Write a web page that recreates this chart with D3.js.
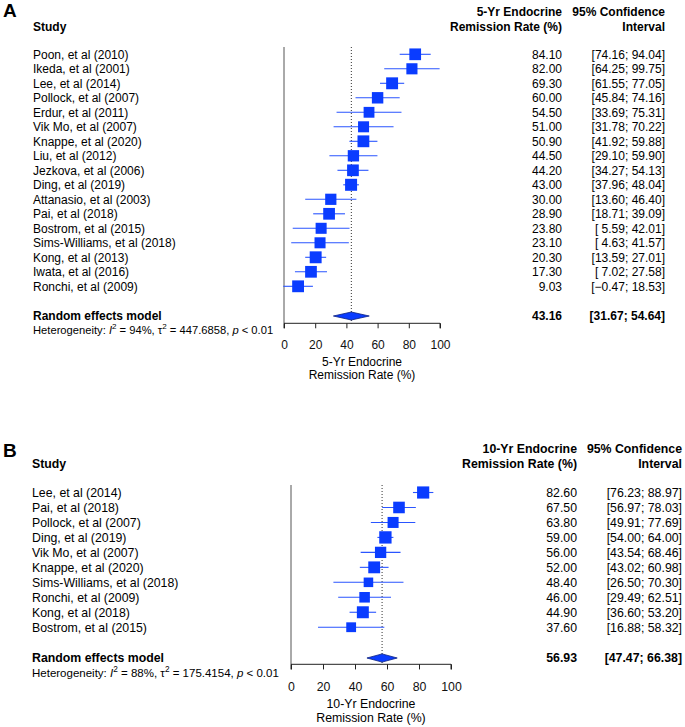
<!DOCTYPE html>
<html>
<head>
<meta charset="utf-8">
<script src="https://cdn.jsdelivr.net/npm/d3@7"></script>
<style>
  html, body { margin: 0; padding: 0; background: #fff; }
  svg text { font-family: "Liberation Sans", Arial, Helvetica, sans-serif; }
</style>
</head>
<body>
<svg id="chart" width="685" height="727"></svg>
<script>
// ---------------- DATA ----------------
const studiesA = ["Poon, et al (2010)", "Ikeda, et al (2001)", "Lee, et al (2014)", "Pollock, et al (2007)",
  "Erdur, et al (2011)", "Vik Mo, et al (2007)", "Knappe, et al (2020)", "Liu, et al (2012)",
  "Jezkova, et al (2006)", "Ding, et al (2019)", "Attanasio, et al (2003)", "Pai, et al (2018)",
  "Bostrom, et al (2015)", "Sims-Williams, et al (2018)", "Kong, et al (2013)", "Iwata, et al (2016)",
  "Ronchi, et al (2009)"];
const estA   = [84.10, 82.00, 69.30, 60.00, 54.50, 51.00, 50.90, 44.50, 44.20, 43.00, 30.00, 28.90, 23.80, 23.10, 20.30, 17.30, 9.03];
const lowerA = [74.16, 64.25, 61.55, 45.84, 33.69, 31.78, 41.92, 29.10, 34.27, 37.96, 13.60, 18.71, 5.59, 4.63, 13.59, 7.02, -0.47];
const upperA = [94.04, 99.75, 77.05, 74.16, 75.31, 70.22, 59.88, 59.90, 54.13, 48.04, 46.40, 39.09, 42.01, 41.57, 27.01, 27.58, 18.53];
const weightA = [6.1, 5.5, 6.3, 5.8, 5.2, 5.4, 6.2, 5.7, 6.1, 6.4, 5.6, 6.1, 5.4, 5.4, 6.3, 6.1, 6.2];
const pooledA = [43.16, 31.67, 54.64];
const hetA = ["94%", "447.6858", "0.01"];

const studiesB = ["Lee, et al (2014)", "Pai, et al (2018)", "Pollock, et al (2007)", "Ding, et al (2019)",
  "Vik Mo, et al (2007)", "Knappe, et al (2020)", "Sims-Williams, et al (2018)", "Ronchi, et al (2009)",
  "Kong, et al (2018)", "Bostrom, et al (2015)"];
const estB   = [82.60, 67.50, 63.80, 59.00, 56.00, 52.00, 48.40, 46.00, 44.90, 37.60];
const lowerB = [76.23, 56.97, 49.91, 54.00, 43.54, 43.02, 26.50, 29.49, 36.60, 16.88];
const upperB = [88.97, 78.03, 77.69, 64.00, 68.46, 60.98, 70.30, 62.51, 53.20, 58.32];
const weightB = [11.7, 10.6, 9.6, 12.0, 10.1, 11.1, 7.2, 8.8, 11.3, 7.6];
const pooledB = [56.93, 47.47, 66.38];
const hetB = ["88%", "175.4154", "0.01"];

const tickValues = [0, 20, 40, 60, 80, 100];
const xDomain = [0, 100];

// ---------------- DRAW ----------------
const svg = d3.select("#chart");
const fmt2 = d3.format(".2f");
const fmtCI = d3.format("5.2f");
const BLUE = "#0a3cff";

function drawPanel(c) {
  const g = svg.append("g");
  const s = c.scale;
  const fs = 12 * s;
  const x = d3.scaleLinear().domain(xDomain).range([c.x0, c.x1]);
  const y = d3.scaleLinear().domain([0, 1]).range([c.row1, c.row1 + c.rowH]);
  const maxW = d3.max(c.weight);
  const side = d3.scaleSqrt().domain([0, maxW]).range([0, 12 * s]);

  // Panel letter
  g.append("text").attr("x", 3).attr("y", c.letterY)
    .attr("font-size", 19).attr("font-weight", "bold").text(c.letter);

  // headers
  g.append("text").attr("x", c.studyX).attr("y", c.row1 - 23.5 * s)
    .attr("font-size", fs).attr("font-weight", "bold").text("Study");
  const hdr = [[c.valRight, c.head1, c.row1 - 38.5 * s], [c.valRight, "Remission Rate (%)", c.row1 - 23.5 * s],
               [c.ciRight, "95% Confidence", c.row1 - 38.5 * s], [c.ciRight, "Interval", c.row1 - 23.5 * s]];
  hdr.forEach(h => g.append("text").attr("x", h[0]).attr("y", h[2]).attr("text-anchor", "end")
    .attr("font-size", fs).attr("font-weight", "bold").text(h[1]));

  // reference line at 0 and dotted pooled line
  g.append("line").attr("x1", x(0)).attr("x2", x(0)).attr("y1", c.lineTop).attr("y2", c.axisY)
    .attr("stroke", "#555").attr("stroke-width", 1);
  g.append("line").attr("x1", x(c.pooled[0])).attr("x2", x(c.pooled[0])).attr("y1", c.lineTop).attr("y2", c.axisY)
    .attr("stroke", "#333").attr("stroke-width", 1).attr("stroke-dasharray", "1,2");

  // rows
  c.studies.forEach((name, i) => {
    const cy = y(i);
    g.append("text").attr("x", c.studyX).attr("y", cy + 4.2 * s).attr("font-size", fs).text(name);
    g.append("text").attr("x", c.valRight).attr("y", cy + 4.2 * s).attr("text-anchor", "end")
      .attr("font-size", fs).text(fmt2(c.est[i]));
    g.append("text").attr("x", c.ciRight).attr("y", cy + 4.2 * s).attr("text-anchor", "end")
      .attr("font-size", fs).style("white-space", "pre")
      .text("[" + fmtCI(c.lo[i]) + "; " + fmtCI(c.hi[i]) + "]");
    g.append("line").attr("x1", x(c.lo[i])).attr("x2", x(c.hi[i])).attr("y1", cy).attr("y2", cy)
      .attr("stroke", "#2a55ff").attr("stroke-width", 1.1);
    const sd = side(c.weight[i]);
    g.append("rect").attr("x", x(c.est[i]) - sd / 2).attr("y", cy - sd / 2)
      .attr("width", sd).attr("height", sd).attr("fill", BLUE);
  });

  // pooled
  const py = c.pooledY;
  const dh = 4 * s;
  g.append("path")
    .attr("d", `M${x(c.pooled[1])},${py} L${x(c.pooled[0])},${py - dh} L${x(c.pooled[2])},${py} L${x(c.pooled[0])},${py + dh} Z`)
    .attr("fill", BLUE).attr("stroke", "#0a1f80").attr("stroke-width", 0.8);
  g.append("text").attr("x", c.studyX).attr("y", py + 3.8 * s).attr("font-size", fs)
    .attr("font-weight", "bold").text("Random effects model");
  g.append("text").attr("x", c.valRight).attr("y", py + 4.2 * s).attr("text-anchor", "end")
    .attr("font-size", fs).attr("font-weight", "bold").text(fmt2(c.pooled[0]));
  g.append("text").attr("x", c.ciRight).attr("y", py + 4.2 * s).attr("text-anchor", "end")
    .attr("font-size", fs).attr("font-weight", "bold")
    .text("[" + fmt2(c.pooled[1]) + "; " + fmt2(c.pooled[2]) + "]");

  // heterogeneity
  const hfs = 11.2 * s;
  const ht = g.append("text").attr("x", c.studyX).attr("y", c.hetY).attr("font-size", hfs).style("white-space", "pre");
  ht.append("tspan").text("Heterogeneity: ");
  ht.append("tspan").attr("font-style", "italic").text("I");
  ht.append("tspan").attr("font-size", hfs * 0.72).attr("dy", -4.5 * s).text("2");
  ht.append("tspan").attr("dy", 4.5 * s).text(" = " + c.het[0] + ", ");
  ht.append("tspan").text("τ");
  ht.append("tspan").attr("font-size", hfs * 0.72).attr("dy", -4.5 * s).text("2");
  ht.append("tspan").attr("dy", 4.5 * s).text(" = " + c.het[1] + ", ");
  ht.append("tspan").attr("font-style", "italic").text("p");
  ht.append("tspan").text(" < " + c.het[2]);

  // axis
  const axis = d3.axisBottom(x).tickValues(tickValues).tickSize(5 * s).tickPadding(12 * s).tickFormat(d3.format("d"));
  const ag = g.append("g").attr("transform", `translate(0,${c.axisY})`).call(axis);
  ag.select(".domain").attr("stroke", "#222").attr("d", `M${x(0)},${5 * s}V0H${x(100)}V${5 * s}`);
  ag.selectAll(".tick line").attr("stroke", "#222");
  ag.selectAll(".tick text").attr("font-size", fs).attr("fill", "#111")
    .attr("font-family", "'Liberation Sans', Arial, sans-serif");
  g.append("text").attr("x", x(50)).attr("y", c.axisY + 42.5 * s).attr("text-anchor", "middle")
    .attr("font-size", fs).text(c.head1);
  g.append("text").attr("x", x(50)).attr("y", c.axisY + 56 * s).attr("text-anchor", "middle")
    .attr("font-size", fs).text("Remission Rate (%)");
}

drawPanel({
  letter: "A", scale: 1, letterY: 17,
  studies: studiesA, est: estA, lo: lowerA, hi: upperA, weight: weightA, pooled: pooledA, het: hetA,
  head1: "5-Yr Endocrine",
  x0: 284, x1: 440, row1: 54.3, rowH: 14.5, lineTop: 47, pooledY: 316, axisY: 323.3, hetY: 333.5,
  studyX: 33, valRight: 562, ciRight: 665
});
drawPanel({
  letter: "B", scale: 1.027, letterY: 457,
  studies: studiesB, est: estB, lo: lowerB, hi: upperB, weight: weightB, pooled: pooledB, het: hetB,
  head1: "10-Yr Endocrine",
  x0: 291, x1: 451, row1: 492.5, rowH: 14.97, lineTop: 485, pooledY: 658, axisY: 664.3, hetY: 677,
  studyX: 32, valRight: 577, ciRight: 682
});
</script>
</body>
</html>
